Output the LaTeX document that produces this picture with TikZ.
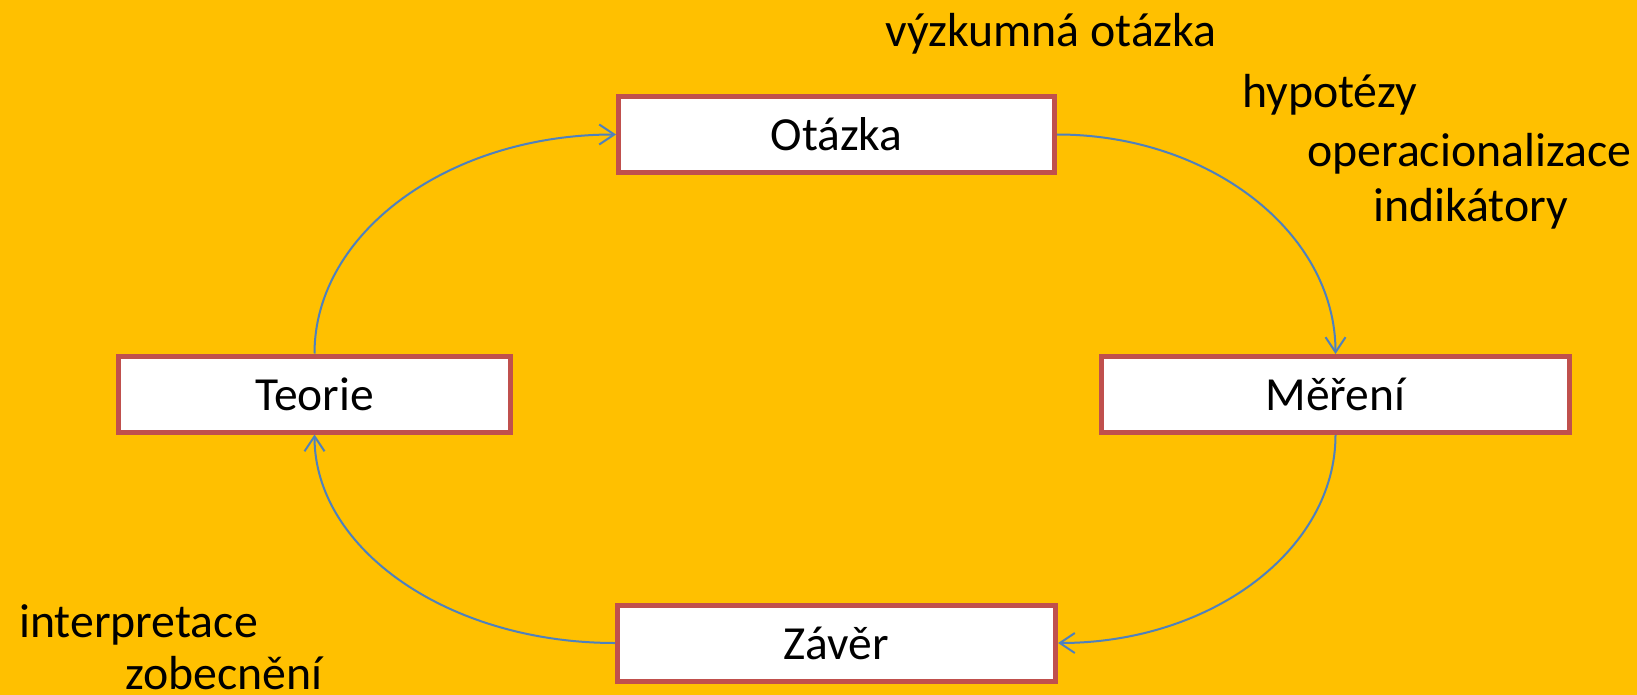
\documentclass[tikz,border=0pt]{standalone}
\usepackage{fontspec}
\setmainfont{Carlito}
\usetikzlibrary{arrows.meta}
\definecolor{bgc}{HTML}{FFC000}
\definecolor{boxred}{HTML}{C0504D}
\definecolor{arrblue}{HTML}{4F81BD}
\begin{document}
\begin{tikzpicture}[x=1pt,y=-1pt,
  box/.style={draw=boxred, line width=5pt, fill=white, minimum height=76pt, inner sep=0pt, font=\fontsize{47.5}{56}\selectfont},
  lbl/.style={anchor=base west, inner sep=0pt, font=\fontsize{47.8}{56}\selectfont},
  arr/.style={draw=arrblue, line width=2pt, -{Straight Barb[length=15pt,width=20pt]}}]
\fill[bgc] (0,0) rectangle (1637,695);
\useasboundingbox (0,0) rectangle (1637,695);
\node[box, minimum width=436pt] (otazka) at (836.5,134.5) {Otázka};
\node[box, minimum width=468pt] (mereni) at (1335.5,394.5) {Měření};
\node[box, minimum width=392pt] (teorie) at (314.5,394) {Teorie};
\node[box, minimum width=438pt] (zaver) at (836.5,643) {Závěr};
\node[lbl] (t1) at (885,47) {výzkumná otázka};
\node[lbl] (t2) at (1242,108) {hypotézy};
\node[lbl] (t3) at (1307,167) {operacionalizace};
\node[lbl] (t4) at (1373,221) {indikátory};
\node[lbl] (t5) at (19,637) {interpretace};
\node[lbl] (t6) at (125,689) {zobecnění};
\draw[arr] (otazka.east) .. controls +(153,0) and +(0,-121) .. (mereni.north);
\draw[arr] (mereni.south) .. controls +(0,115) and +(153,0) .. (zaver.east);
\draw[arr] (zaver.west) .. controls +(-166,0) and +(0,115) .. (teorie.south);
\draw[arr] (teorie.north) .. controls +(0,-121) and +(-167,0) .. (otazka.west);
\end{tikzpicture}
\end{document}
